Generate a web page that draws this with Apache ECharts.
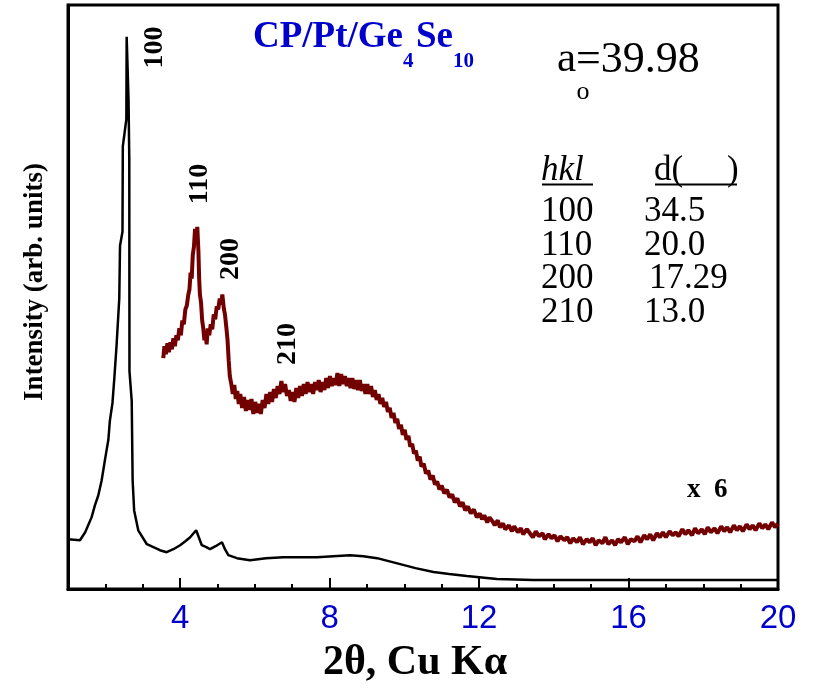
<!DOCTYPE html>
<html>
<head>
<meta charset="utf-8">
<script src="https://cdn.jsdelivr.net/npm/echarts@6/dist/echarts.min.js"></script>
<style>
html,body{margin:0;padding:0;background:#fff;}
#chart{width:817px;height:689px;}
</style>
</head>
<body>
<div id="chart"></div>
<script>
// ---- data (2theta in degrees, intensity in arbitrary units) ----
const majorTicks = [4, 8, 12, 16, 20];
const blackCurve = [
  [1.00,50],[1.32,49],[1.46,57],[1.63,72],[1.72,84],[1.81,94],[1.90,109],[1.99,130],[2.08,150],
  [2.12,169],[2.19,187],[2.24,212],[2.30,245],[2.372,292],[2.392,345],[2.458,359],[2.467,445],
  [2.561,472],[2.570,555],[2.62,492],[2.64,432],[2.645,219],[2.705,189],[2.73,109],[2.77,79],
  [2.88,59],[3.11,45],[3.46,39],[3.64,37],[3.82,40],[4.00,44],[4.14,48],[4.27,52],[4.36,56],[4.43,59],
  [4.50,52],[4.58,44],[4.70,42],[4.80,40],[4.95,43],[5.12,47],[5.20,40],[5.29,34],[5.52,31],
  [5.87,29],[6.30,31],[6.76,32],[7.20,32],[7.66,32],[8.10,33],[8.55,34],[8.90,33],[9.27,31],
  [9.89,25],[10.30,21],[10.78,17],[11.20,15],[11.67,13],[12.48,10],[13.45,9],[15.24,9],[17.92,9],[20.00,9]
];
const redCurve = [
  [3.55,232],[3.58,244],[3.62,236],[3.66,247],[3.70,238],[3.74,248],[3.78,241],[3.82,252],[3.86,244],[3.90,255],
  [3.94,250],[3.98,262],[4.02,255],[4.06,270],[4.10,266],[4.14,281],[4.18,285],[4.22,296],[4.25,301],[4.28,318],
  [4.31,312],[4.34,336],[4.37,344],[4.40,362],[4.43,352],[4.46,364],[4.49,340],[4.51,312],[4.53,296],[4.56,288],
  [4.59,270],[4.62,262],[4.65,250],[4.68,258],[4.71,246],[4.74,262],[4.78,255],[4.82,266],[4.86,261],[4.90,276],
  [4.94,271],[4.98,284],[5.02,281],[5.06,292],[5.10,286],[5.13,296],[5.17,282],[5.20,276],[5.24,262],[5.27,250],
  [5.30,230],[5.33,214],[5.37,206],[5.41,196],[5.45,205],[5.49,191],[5.53,199],[5.57,186],[5.61,196],[5.66,182],
  [5.71,193],[5.76,179],[5.81,190],[5.86,180],[5.91,191],[5.96,176],[6.01,188],[6.06,177],[6.11,186],[6.16,176],
  [6.21,190],[6.26,182],[6.31,196],[6.36,186],[6.41,198],[6.46,188],[6.51,201],[6.56,192],[6.61,204],[6.66,196],
  [6.71,209],[6.76,198],[6.81,206],[6.86,194],[6.91,200],[6.96,189],[7.01,198],[7.06,188],[7.11,202],[7.16,192],
  [7.21,204],[7.26,194],[7.31,206],[7.36,196],[7.41,208],[7.46,198],[7.51,206],[7.56,196],[7.61,208],[7.66,200],
  [7.71,210],[7.76,198],[7.81,208],[7.86,200],[7.91,212],[7.96,202],[8.01,214],[8.06,204],[8.11,212],[8.16,205],
  [8.21,217],[8.26,204],[8.31,216],[8.36,206],[8.41,214],[8.46,204],[8.51,212],[8.56,202],[8.61,212],[8.66,201],
  [8.71,210],[8.76,200],[8.81,210],[8.86,199],[8.91,206],[8.96,196],[9.01,206],[9.06,196],[9.11,204],[9.16,193],
  [9.21,200],[9.26,190],[9.31,196],[9.36,186],[9.41,192],[9.46,183],[9.51,188],[9.56,178],[9.61,182],[9.66,172],
  [9.71,177],[9.76,167],[9.81,171],[9.86,161],[9.91,165],[9.96,155],[10.01,160],[10.06,150],[10.11,154],[10.16,143],
  [10.21,146],[10.26,136],[10.31,139],[10.36,129],[10.41,133],[10.46,123],[10.52,126],[10.58,116],[10.64,119],[10.70,110],
  [10.76,114],[10.82,105],[10.88,108],[10.94,100],[11.00,104],[11.07,96],[11.14,100],[11.21,92],[11.28,95],[11.35,87],
  [11.42,91],[11.49,83],[11.56,87],[11.63,79],[11.70,83],[11.78,76],[11.86,80],[11.94,72],
  [12.02,76],[12.08,70],[12.14,74],[12.22,67],[12.28,72],[12.36,68],[12.42,64],[12.50,69],[12.56,62],[12.64,66],
  [12.70,60],[12.80,64],[12.88,58],[12.94,63],[13.04,57],[13.12,61],[13.18,55],[13.28,60],[13.36,56],[13.44,52],
  [13.52,58],[13.60,53],[13.70,56],[13.76,50],[13.86,55],[13.94,51],[14.02,54],[14.10,48],[14.18,53],[14.28,49],
  [14.36,52],[14.44,46],[14.52,51],[14.62,47],[14.70,52],[14.78,45],[14.88,50],[14.96,47],[15.04,51],[15.12,44],
  [15.20,49],[15.30,46],[15.38,52],[15.46,45],[15.56,49],[15.64,44],[15.72,50],[15.80,47],[15.90,52],[15.98,45],
  [16.06,50],[16.16,48],[16.24,53],[16.32,47],[16.42,54],[16.50,50],[16.58,55],[16.66,49],[16.76,56],[16.84,52],
  [16.92,57],[17.00,52],[17.10,58],[17.18,54],[17.26,57],[17.34,53],[17.44,60],[17.52,55],[17.60,59],[17.70,54],
  [17.78,61],[17.86,56],[17.96,60],[18.04,55],[18.12,62],[18.20,57],[18.30,61],[18.38,56],[18.48,63],[18.56,58],
  [18.64,62],[18.72,57],[18.82,64],[18.90,59],[18.98,63],[19.06,58],[19.16,65],[19.24,60],[19.32,64],[19.40,59],
  [19.50,66],[19.58,61],[19.66,65],[19.74,60],[19.84,67],[19.92,62],[20.00,66]
];
const peakLabels = ['100', '110', '200', '210'];
const hklRows = ['100', '110', '200', '210'];
const dValues = ['34.5', '20.0', '17.29', '13.0'];
const latticeText = '=39.98';

// ---- chart ----
const SERIF = '"Liberation Serif", "Times New Roman", serif';
const SANS = '"Liberation Sans", Arial, sans-serif';
const chart = echarts.init(document.getElementById('chart'));

const peakPos = [[155, 47.5], [200, 184], [231, 259], [288, 344]];
const graphics = [];
peakLabels.forEach((t, i) => {
  graphics.push({
    type: 'text', x: peakPos[i][0], y: peakPos[i][1], rotation: Math.PI / 2,
    style: { text: t, font: 'bold 28px ' + SERIF, fill: '#000', textAlign: 'center', textVerticalAlign: 'middle' }
  });
});
// title
graphics.push(
  { type: 'text', x: 253, y: 37.5, style: { text: 'CP/Pt/Ge', font: 'bold 37px ' + SERIF, fill: '#0000CC', textAlign: 'left', textVerticalAlign: 'middle' } },
  { type: 'text', x: 403, y: 62, style: { text: '4', font: 'bold 21px ' + SERIF, fill: '#0000CC', textAlign: 'left', textVerticalAlign: 'middle' } },
  { type: 'text', x: 416, y: 37.5, style: { text: 'Se', font: 'bold 37px ' + SERIF, fill: '#0000CC', textAlign: 'left', textVerticalAlign: 'middle' } },
  { type: 'text', x: 453, y: 62, style: { text: '10', font: 'bold 21px ' + SERIF, fill: '#0000CC', textAlign: 'left', textVerticalAlign: 'middle' } }
);
// lattice constant
graphics.push(
  { type: 'text', x: 557, y: 60, style: { text: 'a', font: '43px ' + SERIF, fill: '#000', textAlign: 'left', textVerticalAlign: 'middle' } },
  { type: 'text', x: 576, y: 60, style: { text: latticeText, font: '44px ' + SERIF, fill: '#000', textAlign: 'left', textVerticalAlign: 'middle' } },
  { type: 'text', x: 583, y: 92, style: { text: 'o', font: '26px ' + SERIF, fill: '#000', textAlign: 'center', textVerticalAlign: 'middle' } }
);
// table
graphics.push(
  { type: 'text', x: 541, y: 171, style: { text: 'hkl', font: 'italic 35px ' + SERIF, fill: '#000', textAlign: 'left', textVerticalAlign: 'middle' } },
  { type: 'text', x: 654, y: 171, style: { text: 'd(     )', font: '35px ' + SERIF, fill: '#000', textAlign: 'left', textVerticalAlign: 'middle' } },
  { type: 'line', shape: { x1: 542, y1: 184.5, x2: 593, y2: 184.5 }, style: { stroke: '#000', lineWidth: 2 } },
  { type: 'line', shape: { x1: 655, y1: 184.5, x2: 737, y2: 184.5 }, style: { stroke: '#000', lineWidth: 2 } }
);
const rowY = [212, 245.5, 279, 312.5];
hklRows.forEach((t, i) => {
  graphics.push({ type: 'text', x: 541, y: rowY[i], style: { text: t, font: '35px ' + SERIF, fill: '#000', textAlign: 'left', textVerticalAlign: 'middle' } });
  graphics.push({ type: 'text', x: i === 2 ? 649 : 644, y: rowY[i], style: { text: dValues[i], font: '35px ' + SERIF, fill: '#000', textAlign: 'left', textVerticalAlign: 'middle' } });
});
// scale factor
graphics.push({ type: 'text', x: 687, y: 490, style: { text: 'x  6', font: 'bold 27px ' + SERIF, fill: '#000', textAlign: 'left', textVerticalAlign: 'middle' } });
// y axis title
graphics.push({ type: 'text', x: 35, y: 282, rotation: Math.PI / 2,
  style: { text: 'Intensity (arb. units)', font: 'bold 27px ' + SERIF, fill: '#000', textAlign: 'center', textVerticalAlign: 'middle' } });

const option = {
  animation: false,
  backgroundColor: '#fff',
  grid: { left: 68, right: 39, top: 5, bottom: 97, show: true, borderColor: '#000', borderWidth: 3, backgroundColor: 'transparent' },
  xAxis: [
    {
      type: 'value', min: 1, max: 20, position: 'bottom',
      name: '2θ, Cu Kα', nameLocation: 'middle', nameGap: 53,
      nameTextStyle: { fontFamily: SERIF, fontWeight: 'bold', fontSize: 42, color: '#000', padding: [0, 16, 0, 0] },
      axisLine: { show: true, lineStyle: { color: '#000', width: 3 } },
      axisTick: { show: true, inside: true, length: 11, lineStyle: { color: '#000', width: 2 }, customValues: majorTicks },
      axisLabel: { show: true, customValues: majorTicks, color: '#0000CC', fontFamily: SANS, fontSize: 33, margin: 13 },
      splitLine: { show: false }
    },
    {
      type: 'value', min: 1, max: 20, interval: 1, position: 'bottom',
      axisLine: { show: false },
      axisTick: { show: true, inside: true, length: 5, lineStyle: { color: '#000', width: 2 } },
      axisLabel: { show: false },
      splitLine: { show: false }
    }
  ],
  yAxis: {
    type: 'value', min: 0, max: 587,
    axisLine: { show: true, lineStyle: { color: '#000', width: 3 } },
    axisTick: { show: false }, axisLabel: { show: false }, splitLine: { show: false }
  },
  series: [
    { type: 'line', name: 'CP/Pt/Ge4Se10', xAxisIndex: 0, data: blackCurve, showSymbol: false, symbol: 'none',
      lineStyle: { color: '#000', width: 2.5 }, z: 3 },
    { type: 'line', name: 'x 6', xAxisIndex: 0, data: redCurve, showSymbol: false, symbol: 'none',
      lineStyle: { color: '#730000', width: 4 }, z: 2 }
  ],
  graphic: graphics
};
chart.setOption(option);
</script>
</body>
</html>
